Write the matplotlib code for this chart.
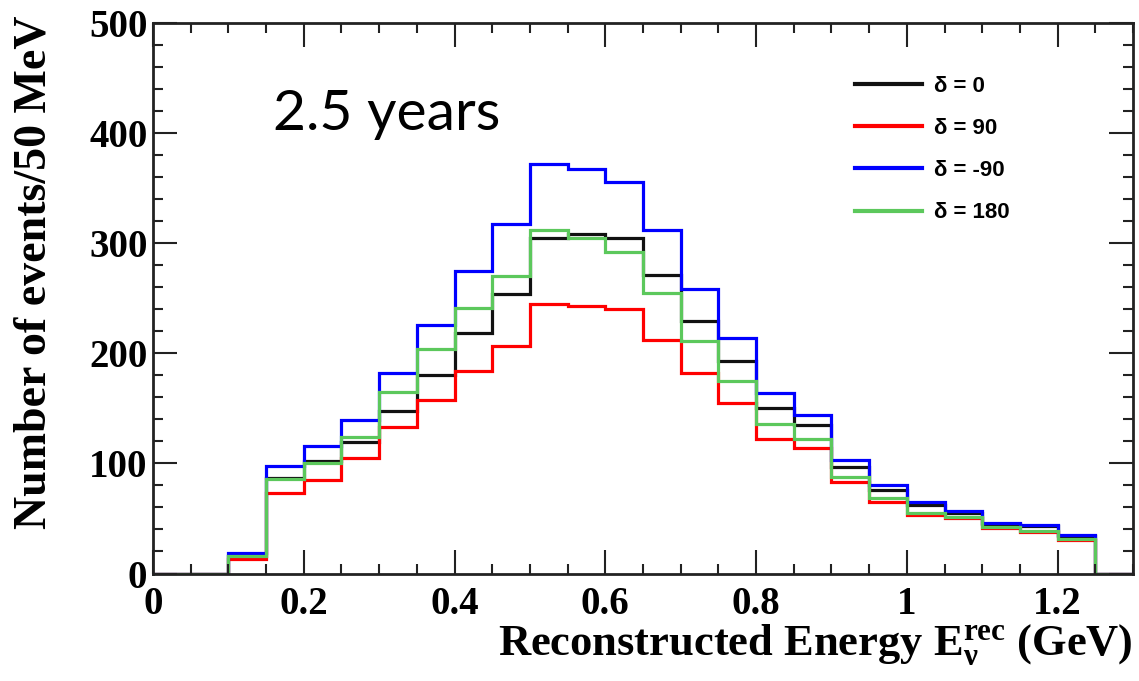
import numpy as np
import matplotlib
matplotlib.use("Agg")
import matplotlib.pyplot as plt
from matplotlib.ticker import MultipleLocator, FuncFormatter

# ----------------------------------------------------------------------
# data: 50 MeV bins from 0 to 1.3 GeV, events per bin for each delta
# ----------------------------------------------------------------------
bin_edges = np.linspace(0.0, 1.3, 27)

events_d0 = [0, 0, 16, 87, 102, 119, 148, 180, 218, 254, 305, 308, 305,
             271, 229, 193, 150, 135, 97, 76, 62, 55, 45, 43, 34, 0]
events_d90 = [0, 0, 13, 73, 85, 105, 133, 158, 184, 207, 245, 243, 240,
              212, 182, 155, 122, 114, 83, 65, 53, 50, 41, 38, 30, 0]
events_dm90 = [0, 0, 19, 98, 116, 139, 182, 226, 275, 317, 372, 367, 356,
               312, 258, 214, 164, 144, 103, 80, 65, 57, 46, 44, 35, 0]
events_d180 = [0, 0, 16, 86, 100, 124, 165, 204, 241, 270, 312, 305, 292,
               255, 211, 175, 136, 122, 88, 69, 55, 51, 42, 39, 31, 0]

series = [
    ("\u03b4 = 0", events_d0, "#111111"),
    ("\u03b4 = 90", events_d90, "#ff0000"),
    ("\u03b4 = -90", events_dm90, "#0000ff"),
    ("\u03b4 = 180", events_d180, "#5cc85c"),
]

# ----------------------------------------------------------------------
# figure
# ----------------------------------------------------------------------
plt.rcParams["mathtext.fontset"] = "custom"
plt.rcParams["mathtext.rm"] = "Liberation Serif:bold"
plt.rcParams["mathtext.bf"] = "Liberation Serif:bold"
plt.rcParams["mathtext.it"] = "Liberation Serif:bold"

fig = plt.figure(figsize=(11.39, 6.81), dpi=100)
ax = fig.add_axes([153 / 1139, 1 - 573.5 / 681, (1133 - 153) / 1139, (573.5 - 23) / 681])

for label, vals, col in series:
    ax.stairs(vals, bin_edges, color=col, linewidth=2.3, label=label)

ax.set_xlim(0, 1.3)
ax.set_ylim(0, 500)
ax.xaxis.set_major_locator(MultipleLocator(0.2))
ax.xaxis.set_minor_locator(MultipleLocator(0.05))
ax.yaxis.set_major_locator(MultipleLocator(100))
ax.yaxis.set_minor_locator(MultipleLocator(20))
ax.xaxis.set_major_formatter(FuncFormatter(lambda v, p: f"{v:g}"))

ax.tick_params(which="both", direction="in", top=True, right=True, width=1.5, colors="#222222")
ax.tick_params(which="major", length=17)
ax.tick_params(which="minor", length=7)
ax.tick_params(axis="x", which="major", pad=9)
ax.tick_params(axis="y", which="major", pad=4)
for lab in ax.get_xticklabels() + ax.get_yticklabels():
    lab.set_fontfamily("Liberation Serif")
    lab.set_fontweight("bold")
    lab.set_fontsize(28)
    lab.set_color("black")
for sp in ax.spines.values():
    sp.set_linewidth(2)
    sp.set_color("#222222")

fig.text(1133 / 1139, 1 - 655 / 681, r"Reconstructed Energy $\mathbf{E}_{\nu}^{\mathbf{rec}}$ (GeV)",
         ha="right", va="baseline", fontsize=32, fontfamily="Liberation Serif", fontweight="bold")
fig.text(14 / 1139, 1 - 272 / 681, "Number of events/50 MeV", rotation=90,
         ha="left", va="center", fontsize=33, fontfamily="Liberation Serif", fontweight="bold")

fig.text(273 / 1139, 1 - 130 / 681, "2.5 years", ha="left", va="baseline",
         fontsize=41, fontfamily="Lato", color="black")

leg = ax.legend(loc="upper left", bbox_to_anchor=(855 / 1139, 1 - 76 / 681),
                bbox_transform=fig.transFigure, frameon=False, borderpad=0, borderaxespad=0,
                handlelength=3.0, handletextpad=0.55, labelspacing=0.95,
                prop={"family": "Liberation Sans", "weight": "bold", "size": 16})
for line in leg.get_lines():
    line.set_linewidth(3)

fig.savefig("out.png", dpi=100)
